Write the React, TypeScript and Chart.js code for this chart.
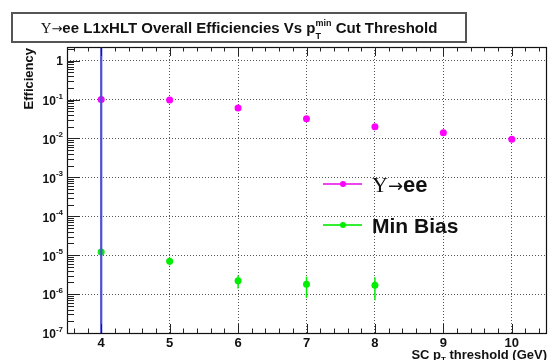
import React, { useEffect, useRef } from 'react';
import { Chart, registerables } from 'chart.js';
Chart.register(...registerables);

const thresholds = [4, 5, 6, 7, 8, 9, 10];
const upsilonEff = [0.1, 0.098, 0.061, 0.032, 0.02, 0.014, 0.0095];
const minBiasX = [4, 5, 6, 7, 8];
const minBiasEff = [1.2e-5, 7e-6, 2.2e-6, 1.8e-6, 1.7e-6];
const minBiasErr = [0.2e-5, 1.5e-6, 0.8e-6, 1.0e-6, 1.0e-6];
const xTickLabels = ['4', '5', '6', '7', '8', '9', '10'];
const yTickExponents = [0, -1, -2, -3, -4, -5, -6, -7];
const cutValue = 4;
const xRange = [3.5, 10.5];
const yRange = [1e-7, 2.25];

const SANS = "'Liberation Sans', Arial, Helvetica, sans-serif";
const SERIF = "'Liberation Serif', 'Times New Roman', serif";
const ARROW = "'DejaVu Sans', sans-serif";
const MAGENTA = '#ff00ff';
const GREEN = '#00ee00';

const overlay = {
  id: 'overlay',
  beforeDraw(chart: any) {
    const ctx = chart.ctx;
    ctx.save();
    ctx.fillStyle = '#ffffff';
    ctx.fillRect(0, 0, chart.width, chart.height);
    ctx.restore();
  },
  beforeDatasetsDraw(chart: any) {
    const { ctx, scales } = chart;
    const x = scales.x, y = scales.y;
    ctx.save();
    ctx.strokeStyle = GREEN;
    ctx.lineWidth = 1.5;
    minBiasX.forEach((v, i) => {
      const px = x.getPixelForValue(v);
      const hi = y.getPixelForValue(minBiasEff[i] + minBiasErr[i]);
      const lo = y.getPixelForValue(Math.max(minBiasEff[i] - minBiasErr[i], 1e-9));
      ctx.beginPath();
      ctx.moveTo(px, hi);
      ctx.lineTo(px, lo);
      ctx.stroke();
    });
    ctx.restore();
  },
  afterDatasetsDraw(chart: any) {
    const { ctx, chartArea: a, scales } = chart;
    const x = scales.x, y = scales.y;
    ctx.save();
    // cut line
    const cx = x.getPixelForValue(cutValue);
    ctx.strokeStyle = '#4d4ddb';
    ctx.lineWidth = 2.2;
    ctx.beginPath();
    ctx.moveTo(cx, a.top);
    ctx.lineTo(cx, a.bottom);
    ctx.stroke();

    // frame
    ctx.strokeStyle = '#111';
    ctx.lineWidth = 1.2;
    ctx.strokeRect(a.left + 0.5, a.top + 0.5, a.right - a.left, a.bottom - a.top);

    // x ticks
    ctx.lineWidth = 1;
    ctx.strokeStyle = '#222';
    for (let k = 0; k <= 35; k++) {
      const v = xRange[0] + 0.1 + k * 0.2;
      if (v > xRange[1]) break;
      const isMajor = Math.abs(v - Math.round(v)) < 1e-6;
      const px = Math.round(x.getPixelForValue(v)) + 0.5;
      const len = isMajor ? 9 : 4.5;
      ctx.beginPath();
      ctx.moveTo(px, a.bottom);
      ctx.lineTo(px, a.bottom - len);
      ctx.moveTo(px, a.top);
      ctx.lineTo(px, a.top + len);
      ctx.stroke();
    }
    // y ticks
    for (let e = -7; e <= 0; e++) {
      for (let m = 1; m <= 9; m++) {
        const v = m * Math.pow(10, e);
        if (v > yRange[1] || v < yRange[0]) continue;
        const py = Math.round(y.getPixelForValue(v)) + 0.5;
        const len = m === 1 ? 13 : 7;
        ctx.beginPath();
        ctx.moveTo(a.left, py);
        ctx.lineTo(a.left + len, py);
        ctx.stroke();
      }
    }
    const py2 = Math.round(y.getPixelForValue(2)) + 0.5;
    ctx.beginPath(); ctx.moveTo(a.left, py2); ctx.lineTo(a.left + 7, py2); ctx.stroke();

    // y tick labels
    ctx.fillStyle = '#111';
    yTickExponents.forEach((ex) => {
      const py = y.getPixelForValue(Math.pow(10, ex));
      const right = a.left - 4;
      if (ex === 0) {
        ctx.font = `bold 12px ${SANS}`;
        ctx.textAlign = 'right';
        ctx.textBaseline = 'middle';
        ctx.fillText('1', right, py + 1);
      } else {
        const sup = String(ex);
        ctx.font = `bold 8px ${SANS}`;
        const sw = ctx.measureText(sup).width;
        ctx.textAlign = 'right';
        ctx.textBaseline = 'alphabetic';
        ctx.fillText(sup, right, py - 1);
        ctx.font = `bold 12px ${SANS}`;
        ctx.textBaseline = 'middle';
        ctx.fillText('10', right - sw, py + 2);
      }
    });
    // x tick labels
    ctx.font = `bold 13px ${SANS}`;
    ctx.textAlign = 'center';
    ctx.textBaseline = 'middle';
    thresholds.forEach((v, i) => {
      ctx.fillText(xTickLabels[i], x.getPixelForValue(v), a.bottom + 10);
    });

    // x axis title (right aligned)
    {
      const parts = [
        { t: 'SC p', f: `bold 13px ${SANS}`, dy: 0 },
        { t: 'T', f: `bold 8px ${SANS}`, dy: 3 },
        { t: ' threshold (GeV)', f: `bold 13px ${SANS}`, dy: 0 },
      ];
      let w = 0;
      parts.forEach((p) => { ctx.font = p.f; w += ctx.measureText(p.t).width; });
      let xx = a.right + 1 - w;
      const base = 359;
      ctx.textAlign = 'left';
      ctx.textBaseline = 'alphabetic';
      parts.forEach((p) => {
        ctx.font = p.f;
        ctx.fillText(p.t, xx, base + p.dy);
        xx += ctx.measureText(p.t).width;
      });
    }

    // y axis title
    ctx.save();
    ctx.translate(33, a.top + 1);
    ctx.rotate(-Math.PI / 2);
    ctx.font = `bold 13px ${SANS}`;
    ctx.textAlign = 'right';
    ctx.textBaseline = 'alphabetic';
    ctx.fillText('Efficiency', 0, 0);
    ctx.restore();

    // title box
    ctx.fillStyle = '#ffffff';
    ctx.fillRect(12, 13, 454, 29);
    ctx.strokeStyle = '#555';
    ctx.lineWidth = 2;
    ctx.strokeRect(12, 13, 454, 29);
    {
      const base = 33;
      const segs: any[] = [
        { t: 'Υ', f: `15px ${SERIF}` },
        { t: '→', f: `13px ${ARROW}` },
        { t: 'ee L1xHLT Overall Efficiencies Vs p', f: `bold 15px ${SANS}` },
        { supsub: true },
        { t: ' Cut Threshold', f: `bold 15px ${SANS}` },
      ];
      const supF = `bold 9px ${SANS}`;
      let w = 0;
      segs.forEach((s) => {
        if (s.supsub) {
          ctx.font = supF;
          w += Math.max(ctx.measureText('min').width, ctx.measureText('T').width);
        } else {
          ctx.font = s.f;
          w += ctx.measureText(s.t).width;
        }
      });
      let xx = 12 + (454 - w) / 2;
      ctx.fillStyle = '#111';
      ctx.textAlign = 'left';
      ctx.textBaseline = 'alphabetic';
      segs.forEach((s) => {
        if (s.supsub) {
          ctx.font = supF;
          ctx.fillText('min', xx, base - 7);
          ctx.fillText('T', xx, base + 6);
          xx += Math.max(ctx.measureText('min').width, ctx.measureText('T').width);
        } else {
          ctx.font = s.f;
          ctx.fillText(s.t, xx, base);
          xx += ctx.measureText(s.t).width;
        }
      });
    }

    // legend
    const entries = [
      { color: '#ee44ee', mk: MAGENTA, y: 184, parts: [
        { t: 'Υ', f: `22px ${SERIF}` },
        { t: '→', f: `18px ${ARROW}` },
        { t: 'ee', f: `bold 22px ${SANS}` },
      ] },
      { color: '#33ee33', mk: GREEN, y: 225, parts: [
        { t: 'Min Bias', f: `bold 21px ${SANS}` },
      ] },
    ];
    entries.forEach((en) => {
      ctx.strokeStyle = en.color;
      ctx.lineWidth = 2;
      ctx.beginPath();
      ctx.moveTo(323, en.y);
      ctx.lineTo(362, en.y);
      ctx.stroke();
      ctx.fillStyle = en.mk;
      ctx.beginPath();
      ctx.arc(343, en.y, 3, 0, Math.PI * 2);
      ctx.fill();
      let xx = 372;
      ctx.fillStyle = '#111';
      ctx.textAlign = 'left';
      ctx.textBaseline = 'alphabetic';
      en.parts.forEach((p) => {
        ctx.font = p.f;
        ctx.fillText(p.t, xx, en.y + 8);
        xx += ctx.measureText(p.t).width;
      });
    });
    ctx.restore();
  },
};

export default function App() {
  const ref = useRef<HTMLCanvasElement | null>(null);
  useEffect(() => {
    if (!ref.current) return;
    const chart = new Chart(ref.current, {
      type: 'scatter',
      data: {
        datasets: [
          {
            label: 'Υ→ee',
            data: thresholds.map((v, i) => ({ x: v, y: upsilonEff[i] })),
            backgroundColor: MAGENTA,
            borderColor: MAGENTA,
            pointRadius: 3.5,
            pointBorderWidth: 0,
            showLine: false,
          },
          {
            label: 'Min Bias',
            data: minBiasX.map((v, i) => ({ x: v, y: minBiasEff[i] })),
            backgroundColor: GREEN,
            borderColor: GREEN,
            pointRadius: 3.5,
            pointBorderWidth: 0,
            showLine: false,
          },
        ],
      },
      options: {
        responsive: false,
        animation: false,
        layout: { padding: { left: 67, right: 0, top: 47, bottom: 27 } },
        plugins: { legend: { display: false }, title: { display: false }, tooltip: { enabled: false } },
        scales: {
          x: {
            type: 'linear',
            min: xRange[0],
            max: xRange[1],
            afterBuildTicks: (s: any) => { s.ticks = thresholds.map((v) => ({ value: v })); },
            afterFit: (s: any) => { s.height = 0; },
            ticks: { display: false },
            border: { display: false, dash: [1, 2] },
            grid: { color: '#555', drawTicks: false, lineWidth: 1 },
          },
          y: {
            type: 'logarithmic',
            min: yRange[0],
            max: yRange[1],
            afterBuildTicks: (s: any) => { s.ticks = yTickExponents.map((e) => ({ value: Math.pow(10, e) })); },
            afterFit: (s: any) => { s.width = 0; },
            ticks: { display: false },
            border: { display: false, dash: [1, 2] },
            grid: { color: '#555', drawTicks: false, lineWidth: 1 },
          },
        },
      } as any,
      plugins: [overlay],
    });
    return () => chart.destroy();
  }, []);
  return (
    <div style={{ position: 'absolute', left: 0, top: 0, width: 550, height: 360 }}>
      <canvas ref={ref} width={550} height={360} style={{ width: 550, height: 360 }} />
    </div>
  );
}
